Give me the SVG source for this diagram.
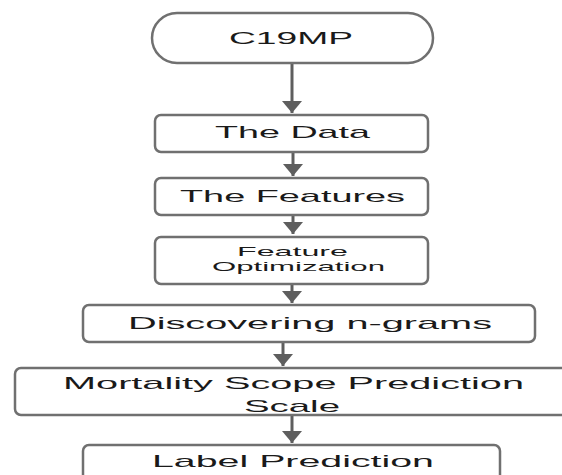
<svg xmlns="http://www.w3.org/2000/svg" width="562" height="475" viewBox="0 0 562 475">
<defs>
<marker id="ah" markerUnits="userSpaceOnUse" markerWidth="12" markerHeight="20" refX="12" refY="10" orient="auto" viewBox="0 0 12 20">
<path d="M0,0 L12,10 L0,20 z" fill="#5e5e5e"/>
</marker>
<style>
.box{fill:#fff;stroke:#707070;stroke-width:2.5}
.t{font-family:"Liberation Sans",Arial,sans-serif;font-size:17px;fill:#1a1a1a;text-anchor:start}
.s{font-size:13px}
.c{stroke:#5e5e5e;stroke-width:3;fill:none;marker-end:url(#ah)}
</style>
</defs>
<rect width="562" height="475" fill="#fff"/>
<g id="connectors">
<line class="c" x1="292" y1="64" x2="292" y2="113"/>
<line class="c" x1="293" y1="152" x2="293" y2="176"/>
<line class="c" x1="293" y1="215" x2="293" y2="234"/>
<line class="c" x1="292" y1="284" x2="292" y2="303"/>
<line class="c" x1="283" y1="342" x2="283" y2="366"/>
<line class="c" x1="292" y1="415" x2="292" y2="443"/>
</g>
<g id="c19mp">
<rect class="box" x="152" y="13" width="281" height="50" rx="25" ry="25"/>
<text class="t" x="229" y="44" textLength="124" lengthAdjust="spacingAndGlyphs">C19MP</text>
</g>
<g id="data">
<rect class="box" x="155" y="115" width="273" height="37" rx="6"/>
<text class="t" x="215" y="138" textLength="155" lengthAdjust="spacingAndGlyphs">The Data</text>
</g>
<g id="features">
<rect class="box" x="155" y="178" width="273" height="37" rx="6"/>
<text class="t" x="180" y="202" textLength="225" lengthAdjust="spacingAndGlyphs">The Features</text>
</g>
<g id="optimization">
<rect class="box" x="155" y="237" width="273" height="47" rx="6"/>
<text class="t s" x="237" y="256" textLength="111" lengthAdjust="spacingAndGlyphs">Feature</text>
<text class="t s" x="212" y="271" textLength="173" lengthAdjust="spacingAndGlyphs">Optimization</text>
</g>
<g id="ngrams">
<rect class="box" x="83" y="305" width="452" height="37" rx="6"/>
<text class="t" x="128" y="329" textLength="364" lengthAdjust="spacingAndGlyphs">Discovering n-grams</text>
</g>
<g id="mortality">
<rect class="box" x="15" y="368" width="560" height="47" rx="6"/>
<text class="t" x="63" y="389" textLength="461" lengthAdjust="spacingAndGlyphs">Mortality Scope Prediction</text>
<text class="t" x="244" y="412" textLength="96" lengthAdjust="spacingAndGlyphs">Scale</text>
</g>
<g id="label">
<rect class="box" x="83" y="445" width="417" height="50" rx="6"/>
<text class="t" x="152" y="467" textLength="282" lengthAdjust="spacingAndGlyphs">Label Prediction</text>
</g>
</svg>
